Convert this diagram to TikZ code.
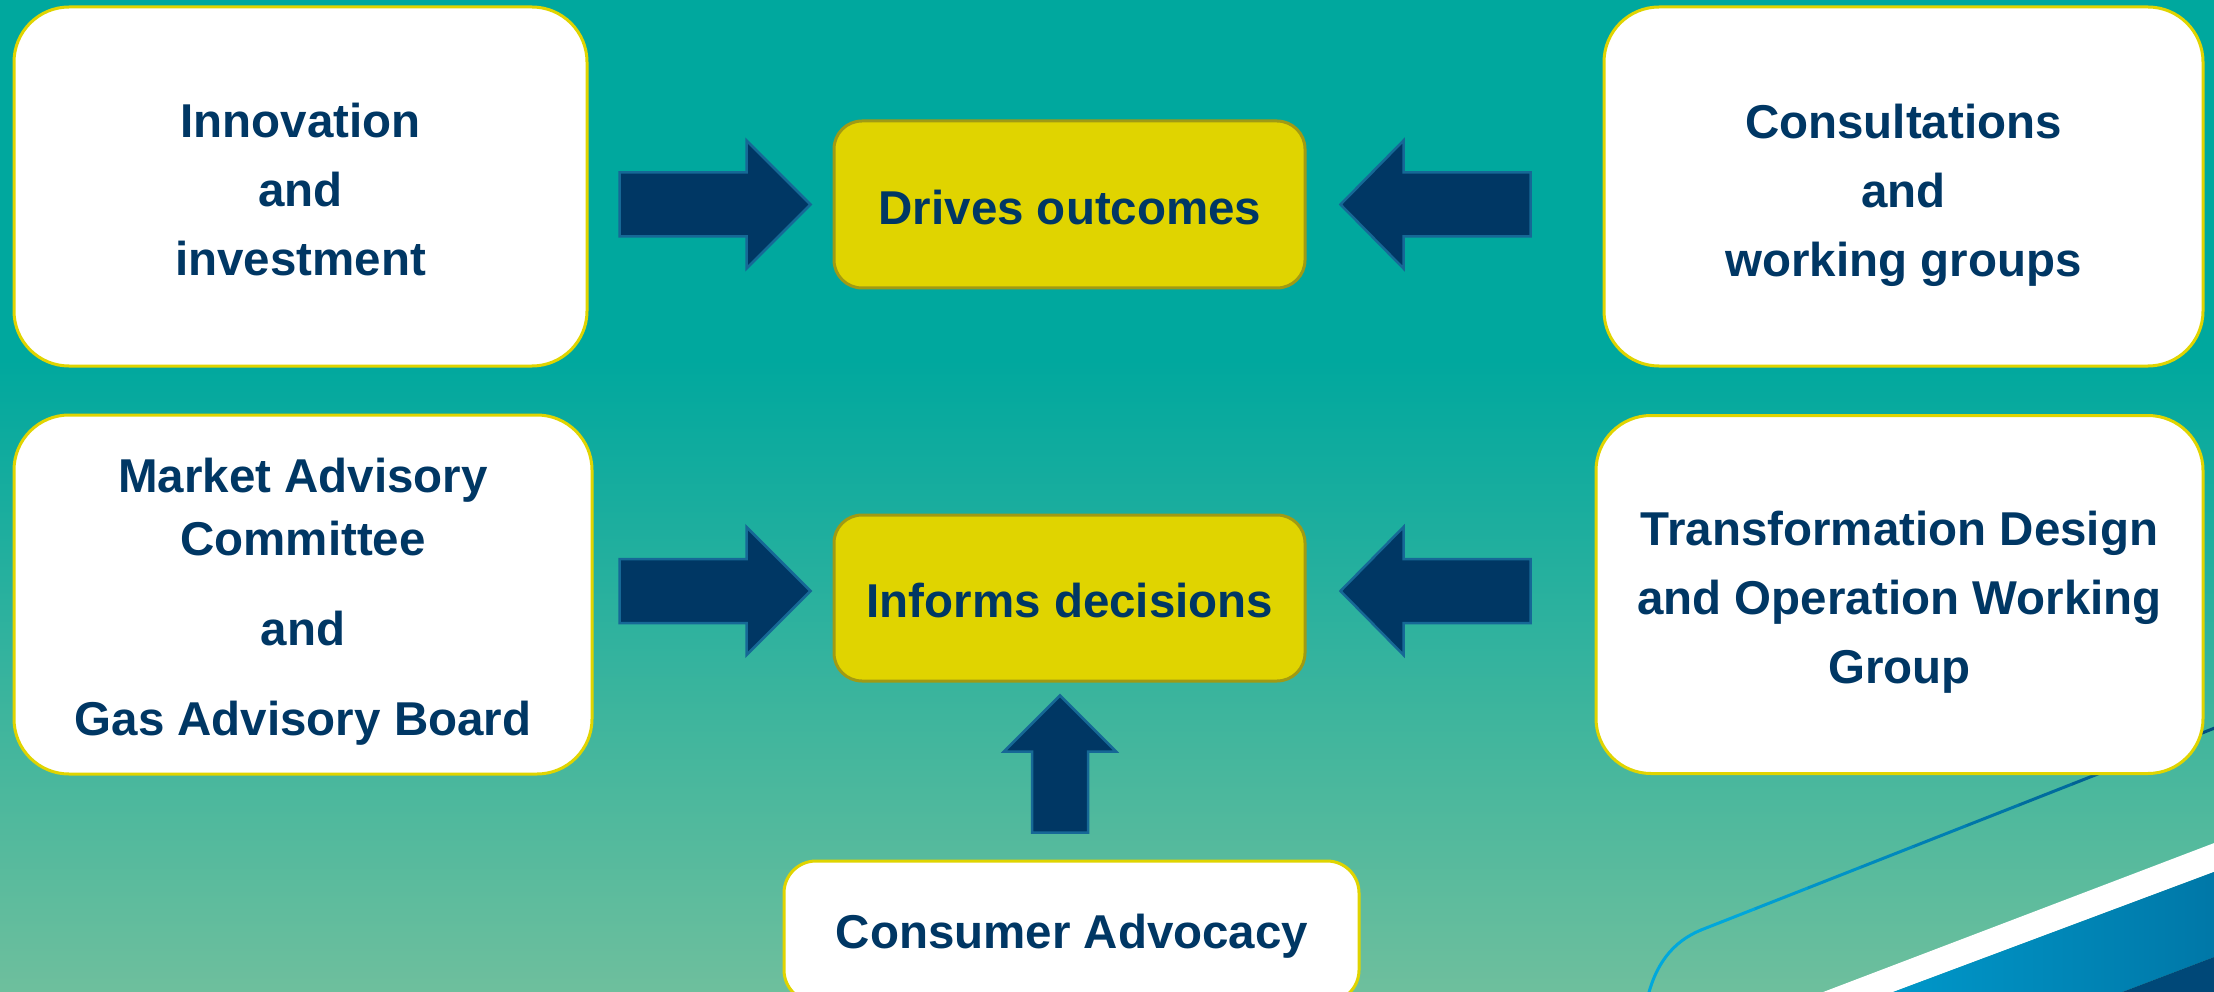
\documentclass[tikz,border=0pt]{standalone}
\usepackage{fontspec}
\setmainfont{Liberation Sans}
\usetikzlibrary{calc}
\definecolor{bgtop}{RGB}{0,168,158}
\definecolor{bgbot}{RGB}{110,191,157}
\definecolor{ybox}{RGB}{224,212,0}
\definecolor{yedge}{RGB}{160,154,20}
\definecolor{navy}{RGB}{0,55,100}
\definecolor{aedge}{RGB}{22,104,150}
\definecolor{lndark}{RGB}{0,78,128}
\definecolor{lnlight}{RGB}{0,168,220}
\definecolor{bandl}{RGB}{0,156,206}
\definecolor{bandr}{RGB}{0,118,166}
\definecolor{bandd}{RGB}{0,72,120}
\begin{document}
\begin{tikzpicture}[x=1pt,y=-1pt,
  wbox/.style={draw=ybox,line width=3pt,fill=white,rounded corners=55pt,inner sep=0pt},
  ybx/.style={draw=yedge,line width=3pt,fill=ybox,rounded corners=28pt,inner sep=0pt},
  cbox/.style={draw=ybox,line width=3pt,fill=white,rounded corners=32pt,inner sep=0pt},
  txt/.style={text=navy,font={\bfseries\fontsize{47.5}{69}\selectfont},align=center,inner sep=0pt},
  barrow/.style={fill=navy,draw=aedge,line width=2.5pt,line join=miter}
]
\useasboundingbox (0,0) rectangle (2214,992);
\clip (0,0) rectangle (2214,992);
% background
\fill[bgtop] (0,0) rectangle (2214,361);
\shade[top color=bgtop,bottom color=bgbot] (0,360) rectangle (2214,992);
% decoration
\coordinate (lnA) at (2230,722);
\coordinate (lnB) at (1701,930);
\foreach \i in {0,...,9}{
  \pgfmathtruncatemacro{\t}{\i*11}
  \pgfmathsetmacro{\fa}{\i/10}
  \pgfmathsetmacro{\fb}{(\i+1)/10}
  \draw[line width=3pt,line cap=round,color=lnlight!\t!lndark] ($(lnA)!\fa!(lnB)$) -- ($(lnA)!\fb!(lnB)$);
}
\draw[line width=3pt,line cap=round,color=lnlight] (lnB) .. controls (1672,942) and (1655,965) .. (1647,1000);
\fill[white] (1776,1010) -- (2230,837) -- (2230,866) -- (1845,1010) -- cycle;
\shade[left color=bandl,right color=bandr] (1845,1010) -- (2230,866) -- (2230,951) -- (2075,1010) -- cycle;
\fill[bandd] (2075,1010) -- (2230,951) -- (2230,1010) -- cycle;
% boxes
\node[wbox,minimum width=573pt,minimum height=359pt] (inn) at (300.5,186.5) {};
\node[wbox,minimum width=599pt,minimum height=359pt] (con) at (1903.5,186.5) {};
\node[wbox,minimum width=578pt,minimum height=359pt] (mac) at (303,594.5) {};
\node[wbox,minimum width=607pt,minimum height=358pt] (tdo) at (1899.5,594.5) {};
\node[ybx,minimum width=471pt,minimum height=167pt] (drv) at (1069.5,204.5) {};
\node[ybx,minimum width=471pt,minimum height=166pt] (inf) at (1069.5,598) {};
\node[cbox,minimum width=575pt,minimum height=141pt] (cad) at (1071.5,931.5) {};
% texts
\node[txt] (innt) at (300.5,190) {Innovation\\and\\investment};
\node[txt] (cont) at (1903.5,195) {Consultations\\and\\working groups};
\node[txt] (mact) at (303,601.5) {Market Advisory\\[-6pt]Committee\\[21pt]and\\[21pt]Gas Advisory Board};
\node[txt] (tdot) at (1899.5,602.5) {Transformation Design\\and Operation Working\\Group};
\node[txt] (drvt) at (1070,208) {Drives outcomes};
\node[txt] (inft) at (1070,601) {Informs decisions};
\node[txt] (cadt) at (1072,936) {Consumer Advocacy};
% block arrows
\coordinate (a1) at ($(drv.west)+(-22,0)$);
\coordinate (a2) at ($(drv.east)+(34,0)$);
\coordinate (a3) at ($(inf.west)+(-22,-7)$);
\coordinate (a4) at ($(inf.east)+(34,-7)$);
\coordinate (a5) at ($(inf.south)+(-9.5,13)$);
\draw[barrow] (a1) -- ++(-64,-64) -- ++(0,32) -- ++(-127,0) -- ++(0,64) -- ++(127,0) -- ++(0,32) -- cycle;
\draw[barrow] (a2) -- ++(63,-64) -- ++(0,32) -- ++(127,0) -- ++(0,64) -- ++(-127,0) -- ++(0,32) -- cycle;
\draw[barrow] (a3) -- ++(-64,-64) -- ++(0,32) -- ++(-127,0) -- ++(0,64) -- ++(127,0) -- ++(0,32) -- cycle;
\draw[barrow] (a4) -- ++(63,-64) -- ++(0,32) -- ++(127,0) -- ++(0,64) -- ++(-127,0) -- ++(0,32) -- cycle;
\draw[barrow] (a5) -- ++(56,56) -- ++(-28,0) -- ++(0,81) -- ++(-56,0) -- ++(0,-81) -- ++(-28,0) -- cycle;
\end{tikzpicture}
\end{document}
